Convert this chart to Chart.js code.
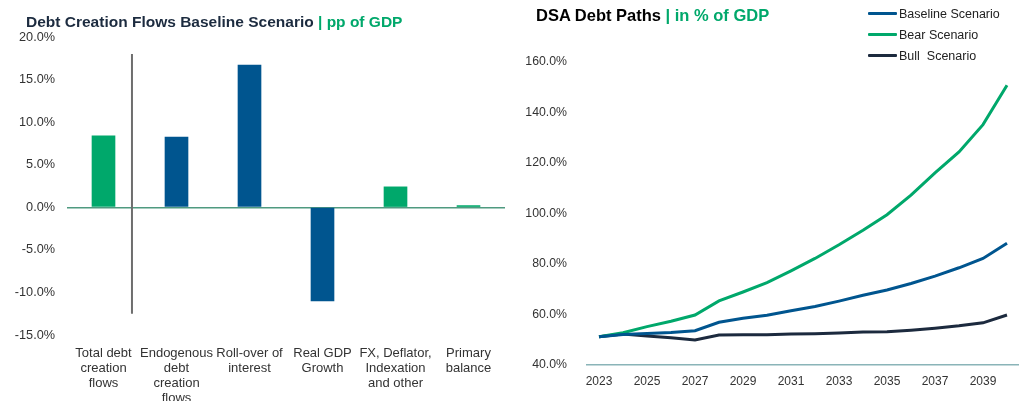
<!DOCTYPE html>
<html>
<head>
<meta charset="utf-8">
<script src="https://cdn.jsdelivr.net/npm/chart.js@4.4.1/dist/chart.umd.min.js"></script>
<style>
  html, body { margin: 0; padding: 0; background: #fff; }
  #wrap { position: relative; width: 1019px; height: 401px; overflow: hidden;
          font-family: "Liberation Sans", Arial, sans-serif; }
  canvas { position: absolute; top: 0; }
  #c1 { left: 0; }
  #c2 { left: 510px; }
  .title { position: absolute; font-weight: bold; white-space: nowrap; }
  .title .accent { color: #00a86b; }
  #t1 { left: 26px; top: 13px; font-size: 15.5px; line-height: 18px; color: #1c2b3f; }
  #t2 { left: 536px; top: 5px; font-size: 16.5px; line-height: 20px; color: #000; }
  #legend { position: absolute; left: 868px; top: 3px; font-size: 12.5px; color: #222; }
  #legend .row { height: 21px; display: flex; align-items: center; }
  #legend .swatch { width: 29px; height: 3px; margin-right: 2px; border-radius: 1px; }
</style>
</head>
<body>
<div id="wrap">
  <canvas id="c1" width="510" height="401"></canvas>
  <canvas id="c2" width="509" height="401"></canvas>
  <div class="title" id="t1">Debt Creation Flows Baseline Scenario <span class="accent">| pp of GDP</span></div>
  <div class="title" id="t2">DSA Debt Paths <span class="accent">| in % of GDP</span></div>
  <div id="legend"></div>
</div>
<script>
// ---- Debt creation flows (pp of GDP) ----
const flowCategories = [
  ['Total debt', 'creation', 'flows'],
  ['Endogenous', 'debt', 'creation', 'flows'],
  ['Roll-over of', 'interest'],
  ['Real GDP', 'Growth'],
  ['FX, Deflator,', 'Indexation', 'and other'],
  ['Primary', 'balance']
];
const flowValues = [8.4, 8.25, 16.7, -11.0, 2.4, 0.2];
const flowColors = ['#00a86b', '#00558f', '#00558f', '#00558f', '#00a86b', '#00a86b'];
const flowTicks = { min: -15, max: 20, step: 5 };

// ---- DSA debt paths (% of GDP) ----
const years = ['2023','2024','2025','2026','2027','2028','2029','2030','2031',
               '2032','2033','2034','2035','2036','2037','2038','2039','2040'];
const baselineScenario = [51.2, 52.1, 52.5, 52.9, 53.6, 56.9, 58.5, 59.7, 61.5,
                          63.2, 65.3, 67.6, 69.7, 72.3, 75.2, 78.5, 82.2, 88.2];
const bearScenario     = [51.2, 52.8, 55.2, 57.3, 59.8, 65.4, 68.9, 72.6, 77.3,
                          82.2, 87.6, 93.4, 99.5, 107.3, 116.1, 124.4, 135.2, 150.8];
const bullScenario     = [51.2, 52.3, 51.5, 50.8, 49.9, 51.9, 52.0, 52.0, 52.3,
                          52.4, 52.7, 53.1, 53.2, 53.8, 54.6, 55.5, 56.7, 59.8];
const pathTicks = { min: 40, max: 160, step: 20 };

const FONT = '"Liberation Sans", Arial, sans-serif';
const TICK_COLOR = '#333333';
const pct = v => Number(v).toFixed(1) + '%';

// Thin separator between the total and its components
const separator = {
  id: 'separator',
  afterDatasetsDraw(chart, args, opts) {
    const x = chart.scales.x, y = chart.scales.y;
    const p0 = x.getPixelForValue(0), p1 = x.getPixelForValue(1);
    const px = p0 + opts.at * (p1 - p0);
    const ctx = chart.ctx;
    ctx.save();
    ctx.strokeStyle = opts.color;
    ctx.lineWidth = opts.width;
    ctx.beginPath();
    ctx.moveTo(px, y.getPixelForValue(opts.from));
    ctx.lineTo(px, y.getPixelForValue(opts.to));
    ctx.stroke();
    ctx.restore();
  }
};

new Chart(document.getElementById('c1'), {
  type: 'bar',
  data: {
    labels: flowCategories,
    datasets: [{
      data: flowValues,
      backgroundColor: flowColors,
      barThickness: 23,
      categoryPercentage: 1
    }]
  },
  plugins: [separator],
  options: {
    responsive: false,
    animation: false,
    layout: { padding: { top: 37, right: 5, bottom: 0, left: 0 } },
    plugins: {
      legend: { display: false },
      tooltip: { enabled: false },
      separator: { at: 0.39, from: 18, to: -12.5, color: '#6e6e6e', width: 2 }
    },
    scales: {
      x: {
        grid: { display: false },
        border: { display: false },
        ticks: {
          autoSkip: false, maxRotation: 0, padding: 3,
          color: TICK_COLOR, font: { family: FONT, size: 13, lineHeight: 1.15 }
        },
        afterFit: s => { s.height = 66; }
      },
      y: {
        min: flowTicks.min, max: flowTicks.max,
        grid: {
          drawTicks: false,
          color: c => (c.tick && c.tick.value === 0) ? '#4f9a80' : 'rgba(0,0,0,0)',
          lineWidth: c => (c.tick && c.tick.value === 0) ? 1.5 : 0
        },
        border: { display: false },
        ticks: {
          stepSize: flowTicks.step, padding: 12, callback: pct,
          color: TICK_COLOR, font: { family: FONT, size: 12.7 }
        },
        afterFit: s => { s.width = 67; }
      }
    }
  }
});

const pathChart = new Chart(document.getElementById('c2'), {
  type: 'line',
  data: {
    labels: years,
    datasets: [
      { label: 'Baseline Scenario', data: baselineScenario, borderColor: '#00558f' },
      { label: 'Bear Scenario', data: bearScenario, borderColor: '#00a86b' },
      { label: 'Bull  Scenario', data: bullScenario, borderColor: '#1c2a3e' }
    ].map(d => Object.assign(d, { borderWidth: 3, pointRadius: 0, tension: 0, fill: false }))
  },
  options: {
    responsive: false,
    animation: false,
    layout: { padding: { top: 62, right: 0, bottom: 0, left: 0 } },
    plugins: { legend: { display: false }, tooltip: { enabled: false } },
    scales: {
      x: {
        offset: true,
        grid: { display: false },
        border: { display: true, color: '#8ab4b8', width: 1.5 },
        ticks: {
          autoSkip: false, maxRotation: 0, padding: 1,
          callback: function (v, i) { return i % 2 === 0 ? this.getLabelForValue(v) : ''; },
          color: TICK_COLOR, font: { family: FONT, size: 12 }
        },
        afterFit: s => { s.height = 36; }
      },
      y: {
        min: pathTicks.min, max: pathTicks.max,
        grid: { display: false },
        border: { display: false },
        ticks: {
          stepSize: pathTicks.step, padding: 12, callback: pct,
          color: TICK_COLOR, font: { family: FONT, size: 12.3 }
        },
        afterFit: s => { s.width = 77; }
      }
    }
  }
});

// Legend built from the line datasets
const legend = document.getElementById('legend');
pathChart.data.datasets.forEach(ds => {
  const row = document.createElement('div');
  row.className = 'row';
  const sw = document.createElement('span');
  sw.className = 'swatch';
  sw.style.background = ds.borderColor;
  const txt = document.createElement('span');
  txt.textContent = ds.label;
  txt.style.whiteSpace = 'pre';
  row.appendChild(sw);
  row.appendChild(txt);
  legend.appendChild(row);
});
</script>
</body>
</html>
